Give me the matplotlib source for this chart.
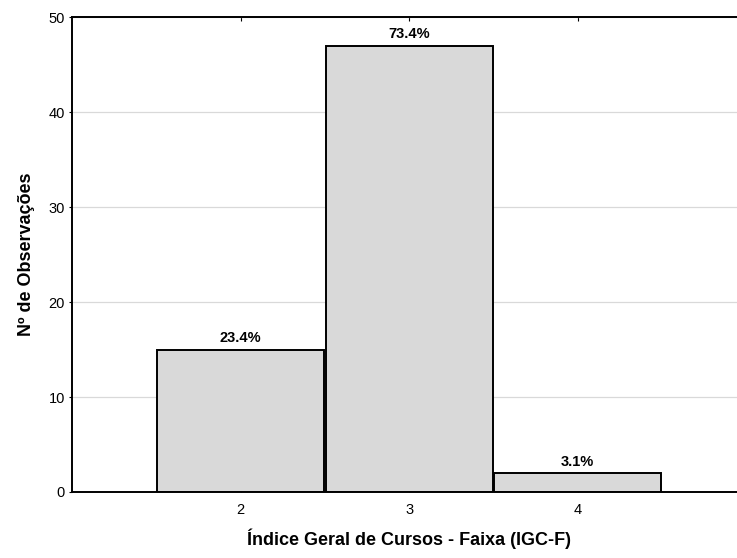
import matplotlib.pyplot as plt

plt.rcParams['font.family'] = ['Liberation Sans', 'DejaVu Sans']

# dados do histograma
faixas = [2, 3, 4]
contagens = [15, 47, 2]
percentuais = ["23.4%", "73.4%", "3.1%"]


def main():
	fig = plt.figure(figsize=(7.37, 5.58), dpi=100)
	ax = fig.add_axes([0.0977, 0.1183, 0.915, 0.851])

	ax.bar(faixas, contagens, width=0.99, color="#d9d9d9",
	       edgecolor="black", linewidth=1.4, zorder=2)

	# rótulos de percentagem acima das barras
	for x, y, p in zip(faixas, contagens, percentuais):
		ax.annotate(p, (x, y), xytext=(0, 3), textcoords="offset points",
		            ha="center", va="bottom", fontsize=10.5, fontweight="bold")

	ax.set_xlim(1, 5)
	ax.set_ylim(0, 50)
	ax.set_xticks(faixas)
	ax.set_yticks([0, 10, 20, 30, 40, 50])
	ax.yaxis.grid(True, color="#d9d9d9", linewidth=0.9, zorder=0)
	ax.set_axisbelow(True)

	ax.tick_params(axis="x", direction="in", top=True, length=3, labelsize=10.5, pad=8)
	ax.tick_params(axis="y", direction="out", length=2, labelsize=10.5, pad=3)

	for s in ax.spines.values():
		s.set_linewidth(1.4)

	ax.set_xlabel("Índice Geral de Cursos - Faixa (IGC-F)", fontsize=13,
	              fontweight="bold", labelpad=8)
	ax.set_ylabel("Nº de Observações", fontsize=13, fontweight="bold", labelpad=10)

	fig.savefig("out.png", dpi=100)


main()
